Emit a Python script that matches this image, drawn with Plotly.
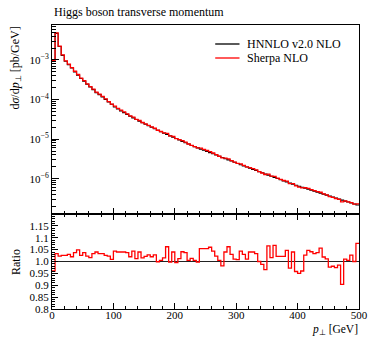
import plotly.graph_objects as go

# ---- data ----
bin_edges = list(range(0, 505, 5))  # p_T bin edges [GeV]

hnnlo = [
    1.0e-3, 4.7e-3, 2.2e-3, 1.31e-3, 9.3e-4, 7.6e-4, 6.3e-4, 5.0e-4, 4.1e-4, 3.4e-4,
    2.9e-4, 2.43e-4, 2.08e-4, 1.78e-4, 1.49e-4, 1.33e-4, 1.16e-4, 1.01e-4, 8.7e-5, 7.6e-5,
    6.5e-5, 5.78e-5, 5.19e-5, 4.67e-5, 4.21e-5, 3.80e-5, 3.44e-5, 3.13e-5, 2.84e-5, 2.59e-5,
    2.37e-5, 2.17e-5, 1.99e-5, 1.83e-5, 1.68e-5, 1.55e-5, 1.42e-5, 1.31e-5, 1.21e-5, 1.12e-5,
    1.035e-5, 9.55e-6, 8.8e-6, 8.1e-6, 7.5e-6, 6.9e-6, 6.45e-6, 6.0e-6, 5.6e-6, 5.25e-6,
    4.9e-6, 4.57e-6, 4.27e-6, 3.98e-6, 3.67e-6, 3.43e-6, 3.2e-6, 2.99e-6, 2.79e-6, 2.6e-6,
    2.43e-6, 2.26e-6, 2.11e-6, 1.97e-6, 1.84e-6, 1.72e-6, 1.62e-6, 1.51e-6, 1.41e-6, 1.32e-6,
    1.23e-6, 1.15e-6, 1.07e-6, 1.01e-6, 9.45e-7, 8.8e-7, 8.3e-7, 7.75e-7, 7.25e-7, 6.85e-7,
    6.45e-7, 6.1e-7, 5.75e-7, 5.45e-7, 5.1e-7, 4.85e-7, 4.57e-7, 4.3e-7, 4.07e-7, 3.85e-7,
    3.63e-7, 3.43e-7, 3.24e-7, 3.05e-7, 2.88e-7, 2.72e-7, 2.57e-7, 2.43e-7, 2.29e-7, 2.16e-7,
]

ratio_sherpa = [
    0.96, 1.033, 1.023, 1.026, 1.026, 1.03, 1.02, 1.037, 1.049, 1.026,
    1.037, 1.023, 1.016, 1.033, 1.04, 1.033, 1.033, 1.026, 1.023, 1.009,
    1.044, 1.04, 1.04, 1.04, 1.037, 1.02, 1.044, 1.012, 1.04, 1.015,
    1.022, 1.028, 1.02, 1.028, 0.999, 1.005, 1.015, 1.062, 0.997, 1.04,
    0.995, 1.012, 1.041, 1.037, 1.005, 1.013, 1.005, 0.997, 1.054, 1.054,
    1.054, 1.06, 1.044, 1.023, 1.005, 0.982, 1.04, 1.062, 1.03, 1.01,
    1.008, 1.044, 1.03, 1.01, 1.04, 1.04, 1.033, 1.0, 0.988, 0.966,
    1.066, 1.016, 1.068, 1.022, 1.022, 1.022, 1.047, 0.972, 1.04, 0.958,
    0.95, 0.96, 1.027, 1.047, 1.041, 1.033, 1.037, 1.056, 1.019, 1.011,
    0.976, 0.98, 0.974, 0.985, 0.904, 1.01, 1.005, 1.027, 1.0, 1.076,
]

series_names = ["HNNLO v2.0 NLO", "Sherpa NLO"]
series_colors = ["black", "#ff0000"]

sherpa = [h * r for h, r in zip(hnnlo, ratio_sherpa)]
ratio_hnnlo = [h / h for h in hnnlo]

main_ytick_vals = [1e-6, 1e-5, 1e-4, 1e-3]
main_ytick_text = ["10<sup>−6</sup>", "10<sup>−5</sup>", "10<sup>−4</sup>", "10<sup>−3</sup>"]
ratio_tick_vals = [0.8, 0.85, 0.9, 0.95, 1.0, 1.05, 1.1, 1.15]
ratio_tick_text = ["0.8", "0.85", "0.9", "0.95", "1.0", "1.05", "1.1", "1.15"]
x_tick_vals = [0, 100, 200, 300, 400, 500]


def steps(vals):
    return bin_edges, list(vals) + [vals[-1]]


FONT = "Liberation Serif"
W, H = 377, 338
L, R, T, B = 52, 9, 25, 29
PW, PH = W - L - R, H - T - B
split = (309 - 214) / PH


def px_x(px):
    return (px - L) / PW


def px_y(py):
    return (H - B - py) / PH


fig = go.Figure()

x, y = steps(hnnlo)
fig.add_trace(go.Scatter(x=x, y=y, mode="lines", line=dict(color=series_colors[0], width=1.1, shape="hv"),
                         name=series_names[0], showlegend=False, xaxis="x", yaxis="y"))
x, y = steps(sherpa)
fig.add_trace(go.Scatter(x=x, y=y, mode="lines", line=dict(color=series_colors[1], width=1.3, shape="hv"),
                         name=series_names[1], showlegend=False, xaxis="x", yaxis="y"))
x, y = steps(ratio_hnnlo)
fig.add_trace(go.Scatter(x=x, y=y, mode="lines", line=dict(color="#222222", width=1.2, shape="hv"),
                         showlegend=False, xaxis="x2", yaxis="y2"))
x, y = steps(ratio_sherpa)
fig.add_trace(go.Scatter(x=x, y=y, mode="lines", line=dict(color=series_colors[1], width=1.3, shape="hv"),
                         showlegend=False, xaxis="x2", yaxis="y2"))

minor_log = [k * 10.0 ** e for e in range(-7, -2) for k in range(2, 10)]

axis_common = dict(showline=True, linecolor="black", linewidth=1, mirror=True,
                   showgrid=False, zeroline=False, ticks="inside", tickcolor="black",
                   tickfont=dict(family=FONT, size=11, color="black"))

fig.update_layout(
    width=W, height=H,
    margin=dict(l=L, r=R, t=T, b=B),
    paper_bgcolor="white", plot_bgcolor="white",
    font=dict(family=FONT, size=11, color="black"),
    showlegend=False,
    xaxis=dict(axis_common, range=[0, 500], domain=[0, 1], anchor="y",
               showticklabels=False, tickvals=x_tick_vals, ticklen=6,
               minor=dict(dtick=20, ticklen=3, ticks="inside", tickcolor="black")),
    yaxis=dict(axis_common, type="log", range=[-6.892, -2.116], domain=[split, 1], anchor="x",
               tickvals=main_ytick_vals, ticktext=main_ytick_text, ticklen=7,
               minor=dict(tickvals=minor_log, ticklen=3.5, ticks="inside", tickcolor="black")),
    xaxis2=dict(axis_common, range=[0, 500], domain=[0, 1], anchor="y2", mirror="ticks",
                tickvals=x_tick_vals, ticklen=6, ticklabelstandoff=-4,
                minor=dict(dtick=20, ticklen=3, ticks="inside", tickcolor="black")),
    yaxis2=dict(axis_common, range=[0.8, 1.2], domain=[0, split], anchor="x2",
                tickvals=ratio_tick_vals, ticktext=ratio_tick_text, ticklen=6,
                minor=dict(dtick=0.01, ticklen=3, ticks="inside", tickcolor="black")),
)

# legend (drawn manually to match the compact layout)
for i, (nm, col) in enumerate(zip(series_names, series_colors)):
    ly = 44 + 14 * i
    fig.add_shape(type="line", xref="paper", yref="paper",
                  x0=px_x(220), x1=px_x(245), y0=px_y(ly), y1=px_y(ly),
                  line=dict(color=col, width=1.3))
    fig.add_annotation(text=nm, xref="paper", yref="paper", x=px_x(251), y=px_y(ly),
                       xanchor="left", yanchor="middle", showarrow=False,
                       font=dict(family=FONT, size=12, color="black"))

fig.add_annotation(text="Higgs boson transverse momentum", xref="paper", yref="paper",
                   x=0, y=1, yshift=4, xanchor="left", yanchor="bottom", showarrow=False,
                   font=dict(family=FONT, size=12))
fig.add_annotation(text="d<i>σ</i>/d<i>p</i><sub>⊥</sub> [pb/GeV]", xref="paper", yref="paper",
                   x=px_x(14), y=1, xanchor="center", yanchor="top", textangle=-90,
                   showarrow=False, font=dict(family=FONT, size=12))
fig.add_annotation(text="Ratio", xref="paper", yref="paper",
                   x=px_x(15), y=px_y(262), xanchor="center", yanchor="middle",
                   textangle=-90, showarrow=False, font=dict(family=FONT, size=12))
fig.add_annotation(text="<i>p</i><sub>⊥</sub> [GeV]", xref="paper", yref="paper",
                   x=1, y=px_y(338), xanchor="right", yanchor="bottom", showarrow=False,
                   borderpad=0, font=dict(family=FONT, size=11.5))

fig.write_html("out.html")
